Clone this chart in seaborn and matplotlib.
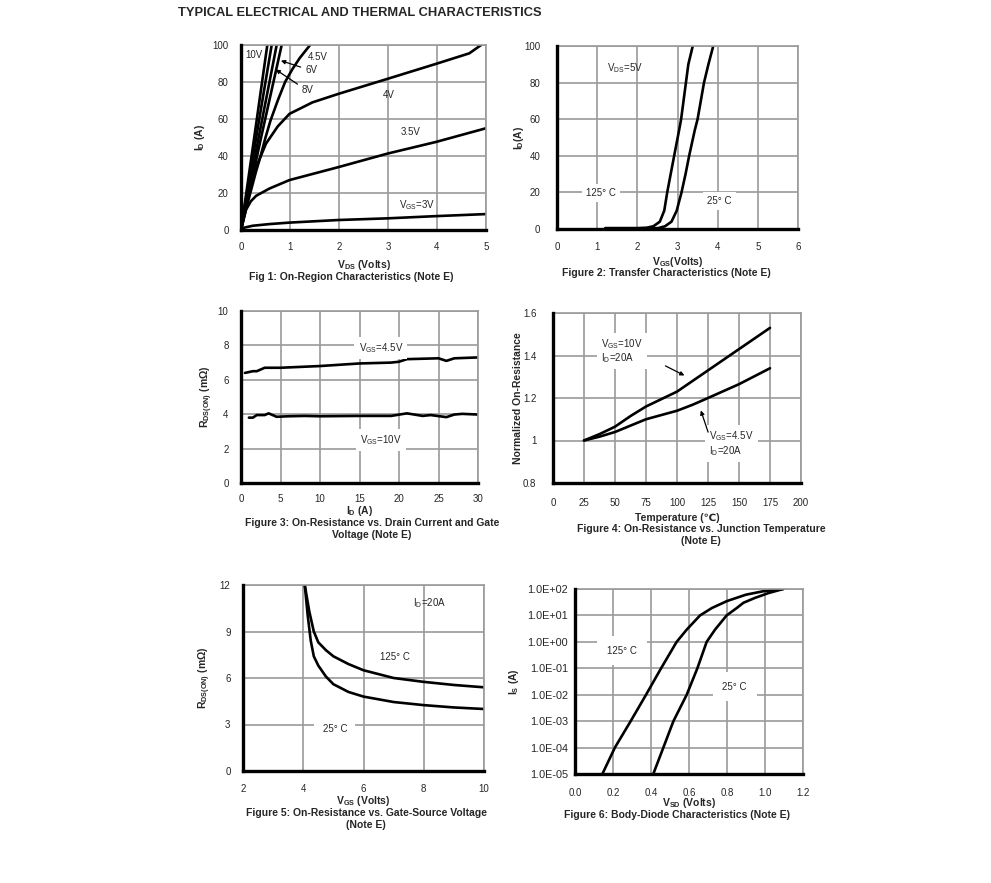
import numpy as np
import pandas as pd
import matplotlib
matplotlib.use("Agg")
import matplotlib.pyplot as plt
from matplotlib.ticker import FuncFormatter
import seaborn as sns

sns.set_style("white")
plt.rcParams['font.family'] = ['Liberation Sans', 'DejaVu Sans']
plt.rcParams['mathtext.fontset'] = 'custom'
plt.rcParams['mathtext.rm'] = 'Liberation Sans'
plt.rcParams['mathtext.bf'] = 'Liberation Sans:bold'
plt.rcParams['mathtext.it'] = 'Liberation Sans:italic'

# ---- Fig 1: on-region curves (VDS, ID) ----
f1_curves = {
    "10V": ([0, 0.27, 0.537], [0, 50, 100]),
    "8V": ([0, 0.31, 0.626], [0, 50, 100]),
    "6V": ([0, 0.36, 0.728], [0, 50, 100]),
    "5V": ([0, 0.41, 0.83], [0, 50, 100]),
    "4.5V": ([0, 0.1, 0.2, 0.3, 0.4, 0.5, 0.6, 0.75, 0.9, 1.05, 1.2, 1.41],
             [0, 11, 21, 31, 40, 50, 59, 70, 80, 87, 93, 100]),
    "4V": ([0, 0.05, 0.1, 0.17, 0.31, 0.51, 0.75, 0.99, 1.46, 1.99, 2.99, 3.98, 4.66, 4.9],
           [0, 9, 16, 23, 34, 46.7, 56, 62.8, 69, 73.6, 81.7, 89.8, 95.5, 100]),
    "3.5V": ([0, 0.05, 0.1, 0.2, 0.31, 0.58, 0.99, 1.99, 2.99, 3.98, 5],
             [0, 5.5, 10.8, 15.5, 18.5, 22.4, 27, 34, 41.3, 47.6, 55]),
    "3V": ([0, 0.07, 0.24, 0.58, 0.99, 1.99, 2.99, 3.98, 5],
           [0, 1.3, 2.3, 3.2, 4.0, 5.4, 6.3, 7.5, 8.6]),
}

# ---- Fig 2: transfer (VGS, ID) ----
f2_125_vgs = [1.2, 1.6, 2.0, 2.23, 2.40, 2.56, 2.67, 2.744, 2.83, 2.917, 3.04, 3.09, 3.21, 3.27, 3.38]
f2_125_id = [0.5, 0.5, 0.5, 0.7, 1.5, 4, 10, 20, 30, 40, 54, 60, 80, 90, 100]
f2_25_vgs = [2.0, 2.3, 2.52, 2.69, 2.85, 2.98, 3.10, 3.20, 3.29, 3.43, 3.50, 3.66, 3.77, 3.89]
f2_25_id = [0.3, 0.3, 0.5, 1.5, 4, 10, 20, 30, 40, 54, 60, 80, 90, 100]

# ---- Fig 3: RDS(ON) vs ID ----
f3_id_45 = [0.5, 1.5, 2, 3, 5, 10, 15, 19, 20, 21, 25, 26, 27, 30]
f3_r_45 = [6.4, 6.5, 6.5, 6.7, 6.7, 6.8, 6.95, 7.0, 7.05, 7.2, 7.25, 7.1, 7.25, 7.3]
f3_id_10 = [1, 1.5, 2, 3, 3.5, 4.5, 6, 8, 10, 15, 19, 21, 23, 24, 26, 27, 28, 30]
f3_r_10 = [3.8, 3.8, 3.95, 3.95, 4.05, 3.85, 3.88, 3.9, 3.88, 3.9, 3.9, 4.05, 3.9, 3.95, 3.83, 3.98, 4.02, 3.98]

# ---- Fig 4: normalized on-resistance vs temperature ----
f4_temp = [25, 37.5, 50, 62.5, 75, 87.5, 100, 112.5, 125, 150, 175]
f4_r_10 = [1.0, 1.03, 1.065, 1.115, 1.16, 1.195, 1.23, 1.28, 1.33, 1.43, 1.53]
f4_r_45 = [1.0, 1.018, 1.04, 1.07, 1.10, 1.12, 1.14, 1.168, 1.20, 1.265, 1.34]

# ---- Fig 5: RDS(ON) vs VGS ----
f5_vgs_25 = [4.05, 4.15, 4.25, 4.35, 4.5, 4.75, 5, 5.5, 6, 7, 8, 9, 10]
f5_r_25 = [12, 10, 8.4, 7.4, 6.8, 6.1, 5.6, 5.1, 4.8, 4.45, 4.25, 4.1, 4.0]
f5_vgs_125 = [4.05, 4.2, 4.35, 4.5, 4.75, 5, 5.5, 6, 7, 8, 9, 10]
f5_r_125 = [12, 10.3, 9.0, 8.3, 7.8, 7.4, 6.9, 6.5, 6.0, 5.75, 5.55, 5.4]

# ---- Fig 6: body diode ----
f6_v_125 = [0.144, 0.21, 0.293, 0.374, 0.453, 0.535, 0.588, 0.658, 0.72, 0.80, 0.90, 0.99, 1.096]
f6_i_125 = [1e-5, 1e-4, 1e-3, 1e-2, 1e-1, 1, 2.9, 10, 19, 35, 61, 82, 100]
f6_v_25 = [0.412, 0.465, 0.518, 0.588, 0.644, 0.693, 0.737, 0.798, 0.851, 0.886, 0.947, 1.018, 1.096]
f6_i_25 = [1e-5, 1e-4, 1e-3, 1e-2, 1e-1, 1, 2.9, 10, 19, 30, 46, 70, 100]

W, H = 991, 883
fig = plt.figure(figsize=(W / 100, H / 100), dpi=100)
GRID = '#9a9a9a'


def make_axes(l, t, r, b):
    return fig.add_axes([l / W, 1 - b / H, (r - l) / W, (b - t) / H])


def style(ax, xlim, ylim, xticks, yticks, ypad=9, xpad=9):
    ax.set_xlim(*xlim)
    ax.set_ylim(*ylim)
    ax.set_xticks(xticks)
    ax.set_yticks(yticks)
    ax.grid(True, color=GRID, lw=1.2)
    ax.set_axisbelow(True)
    for s in ['top', 'right']:
        ax.spines[s].set_color(GRID)
        ax.spines[s].set_linewidth(1.2)
    for s in ['left', 'bottom']:
        ax.spines[s].set_color('black')
        ax.spines[s].set_linewidth(2.4)
        ax.spines[s].set_zorder(5)
    ax.tick_params(length=0, labelsize=7)
    ax.tick_params(axis='y', pad=ypad)
    ax.tick_params(axis='x', pad=xpad)


def draw(ax, curves):
    rows = []
    for name, (xs, ys) in curves.items():
        for x, y in zip(xs, ys):
            rows.append({'x': x, 'y': y, 'curve': name})
    df = pd.DataFrame(rows)
    sns.lineplot(data=df, x='x', y='y', hue='curve', palette={k: 'black' for k in curves},
                 legend=False, sort=False, estimator=None, lw=1.9, ax=ax)


def labels(ax, xl, yl, xlab_y, ylab_x, box):
    l, t, r, b = box
    ax.set_xlabel(xl, fontsize=7.5, fontweight='bold')
    ax.set_ylabel(yl, fontsize=7.5, fontweight='bold')
    ax.xaxis.set_label_coords(0.5, -(xlab_y - b) / (b - t))
    ax.yaxis.set_label_coords((ylab_x - l) / (r - l), 0.5)
    ax.xaxis.label.set_va('center')
    ax.yaxis.label.set_va('center')


def caption(x, y, s, va='center'):
    fig.text(x / W, 1 - y / H, s, fontsize=7.5, fontweight='bold', ha='center', va=va, linespacing=1.3)


wbox = dict(facecolor='white', edgecolor='none', pad=3)
arr = dict(arrowstyle='-|>', color='black', lw=0.9, mutation_scale=6)

# Title
fig.text(178 / W, 1 - 13 / H, "TYPICAL ELECTRICAL AND THERMAL CHARACTERISTICS",
         fontsize=9.3, fontweight='bold', va='center', ha='left')

# Panel 1
b1 = (241, 45, 486, 230)
ax1 = make_axes(*b1)
draw(ax1, f1_curves)
style(ax1, (0, 5), (0, 100), range(0, 6), range(0, 101, 20))
labels(ax1, r"V$_\mathbf{DS}$ (Volts)", r"I$_\mathbf{D}$ (A)", 265, 200, b1)
ax1.text(0.27, 94.6, "10V", fontsize=7, va='center', ha='center')
ax1.text(1.37, 93.5, "4.5V", fontsize=7, va='center')
ax1.text(1.31, 86.5, "6V", fontsize=7, va='center')
ax1.text(1.24, 75.7, "8V", fontsize=7, va='center')
ax1.text(3.02, 73, "4V", fontsize=7, va='center', ha='center')
ax1.text(3.47, 53, "3.5V", fontsize=7, va='center', ha='center')
ax1.text(3.6, 13.5, r"V$_\mathrm{GS}$=3V", fontsize=7, va='center', ha='center')
ax1.annotate("", xy=(0.76, 92), xytext=(1.27, 87.6), arrowprops=arr)
ax1.annotate("", xy=(0.66, 87.6), xytext=(1.2, 78), arrowprops=arr)
caption(351, 277, "Fig 1: On-Region Characteristics (Note E)")

# Panel 2
b2 = (557, 46, 798, 229)
ax2 = make_axes(*b2)
draw(ax2, {"125": (f2_125_vgs, f2_125_id), "25": (f2_25_vgs, f2_25_id)})
style(ax2, (0, 6), (0, 100), range(0, 7), range(0, 101, 20), ypad=12)
labels(ax2, r"V$_\mathbf{GS}$(Volts)", r"I$_\mathbf{D}$(A)", 262, 519, b2)
ax2.text(1.7, 88, r"V$_\mathrm{DS}$=5V", fontsize=7, ha='center', va='center')
ax2.text(1.1, 19.7, "125° C", fontsize=7, ha='center', va='center', bbox=wbox)
ax2.text(4.05, 15.3, "25° C", fontsize=7, ha='center', va='center', bbox=wbox)
caption(666, 273, "Figure 2: Transfer Characteristics (Note E)")

# Panel 3
b3 = (241, 311, 478, 483)
ax3 = make_axes(*b3)
draw(ax3, {"4.5": (f3_id_45, f3_r_45), "10": (f3_id_10, f3_r_10)})
style(ax3, (0, 30), (0, 10), range(0, 31, 5), range(0, 11, 2), xpad=8)
labels(ax3, r"I$_\mathbf{D}$ (A)", r"R$_\mathbf{DS(ON)}$ (mΩ)", 511, 207, b3)
ax3.text(17.7, 7.84, r"V$_\mathrm{GS}$=4.5V", fontsize=7, ha='center', va='center', bbox=wbox)
ax3.text(17.7, 2.5, r"V$_\mathrm{GS}$=10V", fontsize=7, ha='center', va='center', bbox=wbox)
caption(372, 518, "Figure 3: On-Resistance vs. Drain Current and Gate\nVoltage (Note E)", va='top')

# Panel 4
b4 = (553, 313, 801, 483)
ax4 = make_axes(*b4)
draw(ax4, {"10": (f4_temp, f4_r_10), "4.5": (f4_temp, f4_r_45)})
style(ax4, (0, 200), (0.8, 1.6), range(0, 201, 25), [0.8, 1.0, 1.2, 1.4, 1.6], ypad=12, xpad=11)
ax4.set_yticklabels(["0.8", "1", "1.2", "1.4", "1.6"])
labels(ax4, "Temperature (℃)", "Normalized On-Resistance", 518, 518, b4)
ax4.text(39, 1.42, "V$_\\mathrm{GS}$=10V\nI$_\\mathrm{D}$=20A", fontsize=7, ha='left', va='center',
         bbox=wbox, linespacing=1.05)
ax4.text(126, 0.985, "V$_\\mathrm{GS}$=4.5V\nI$_\\mathrm{D}$=20A", fontsize=7, ha='left', va='center',
         bbox=wbox, linespacing=1.05)
ax4.annotate("", xy=(108, 1.30), xytext=(88.7, 1.357), arrowprops=arr)
ax4.annotate("", xy=(118.5, 1.154), xytext=(125.8, 1.027), arrowprops=arr)
caption(701, 524, "Figure 4: On-Resistance vs. Junction Temperature\n(Note E)", va='top')

# Panel 5
b5 = (243, 585, 484, 771)
ax5 = make_axes(*b5)
draw(ax5, {"25": (f5_vgs_25, f5_r_25), "125": (f5_vgs_125, f5_r_125)})
style(ax5, (2, 10), (0, 12), range(2, 11, 2), range(0, 13, 3))
labels(ax5, r"V$_\mathbf{GS}$ (Volts)", r"R$_\mathbf{DS(ON)}$ (mΩ)", 801, 205, b5)
ax5.text(8.2, 10.84, r"I$_\mathrm{D}$=20A", fontsize=7, ha='center', va='center')
ax5.text(7.04, 7.35, "125° C", fontsize=7, ha='center', va='center',
         bbox=dict(facecolor='white', edgecolor='none', pad=6))
ax5.text(5.05, 2.7, "25° C", fontsize=7, ha='center', va='center',
         bbox=dict(facecolor='white', edgecolor='none', pad=6))
caption(366, 808, "Figure 5: On-Resistance vs. Gate-Source Voltage\n(Note E)", va='top')

# Panel 6
b6 = (575, 589, 803, 774)
ax6 = make_axes(*b6)
ax6.set_yscale('log')
draw(ax6, {"125": (f6_v_125, f6_i_125), "25": (f6_v_25, f6_i_25)})
style(ax6, (0, 1.2), (1e-5, 1e2), np.arange(0, 1.21, 0.2), [10.0 ** k for k in range(-5, 3)],
      ypad=5, xpad=10)
ax6.minorticks_off()
ax6.tick_params(axis='y', labelsize=7.8)
ax6.yaxis.set_major_formatter(FuncFormatter(lambda v, p: f"{v:.1E}"))
ax6.xaxis.set_major_formatter(FuncFormatter(lambda v, p: f"{v:.1f}"))
labels(ax6, r"V$_\mathbf{SD}$ (Volts)", r"I$_\mathbf{S}$ (A)", 803, 514, b6)
ax6.text(0.247, 0.47, "125° C", fontsize=7, ha='center', va='center',
         bbox=dict(facecolor='white', edgecolor='none', pad=7))
ax6.text(0.84, 0.0204, "25° C", fontsize=7, ha='center', va='center',
         bbox=dict(facecolor='white', edgecolor='none', pad=7))
caption(677, 815, "Figure 6: Body-Diode Characteristics (Note E)")

fig.savefig("out.png", dpi=100, facecolor='white')
